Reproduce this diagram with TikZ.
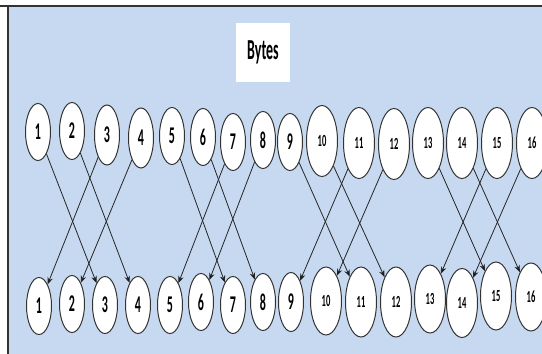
\documentclass[tikz,border=0pt]{standalone}
\usepackage{fontspec}
\setmainfont{Carlito}
\newfontfamily\bytefont[FakeStretch=0.5]{Carlito}
\usetikzlibrary{shapes.geometric,arrows.meta}
\definecolor{panelblue}{RGB}{198,217,240}
\begin{document}
\begin{tikzpicture}[x=1pt, y=-1pt, thick,
		byte node/.style={ellipse,draw=black!80,fill=white,line width=1pt,inner sep=0pt,
			minimum width=25pt,minimum height=57pt,font=\bytefont\bfseries\fontsize{24}{24}\selectfont},
		big byte node/.style={byte node,minimum width=31pt,minimum height=71pt,
			font=\bytefont\bfseries\fontsize{17}{17}\selectfont},
		link/.style={-{Stealth[length=7pt,width=5.5pt]},draw=black!85,line width=0.8pt}]
			
			\useasboundingbox (0,0) rectangle (542,354);
			\fill[panelblue] (8,7) rectangle (542,354);
			\draw[black!80,line width=1.6pt] (0,6) -- (542,6);
			\draw[black!80,line width=1.2pt] (8,6) -- (8,354);
			
			\node[fill=white,minimum width=54pt,minimum height=59pt,
			font=\bfseries\addfontfeatures{FakeStretch=0.48}\fontsize{29}{29}\selectfont] (title) at (263,52.5) {Bytes};
			
			% upper row
			\node[byte node] (t1) at (38,132) {1};
			\node[byte node] (t2) at (72,131) {2};
			\node[byte node,minimum height=60pt] (t3) at (107,135) {3};
			\node[byte node,minimum height=60pt] (t4) at (141,138) {4};
			\node[byte node] (t5) at (172,136) {5};
			\node[byte node] (t6) at (203,137) {6};
			\node[byte node] (t7) at (233,142) {7};
			\node[byte node] (t8) at (263,140) {8};
			\node[byte node] (t9) at (290,142) {9};
			\node[big byte node] (t10) at (322,141) {10};
			\node[big byte node] (t11) at (359,143) {11};
			\node[big byte node] (t12) at (394,144) {12};
			\node[big byte node] (t13) at (428,143) {13};
			\node[big byte node] (t14) at (462,143) {14};
			\node[big byte node] (t15) at (497,143) {15};
			\node[big byte node] (t16) at (532,143) {16};
			
			% lower row
			\node[byte node] (b1) at (39,306) {1};
			\node[byte node] (b2) at (72,304) {2};
			\node[byte node] (b3) at (105,305) {3};
			\node[byte node] (b4) at (138,305) {4};
			\node[byte node] (b5) at (170,305) {5};
			\node[byte node] (b6) at (201,302) {6};
			\node[byte node] (b7) at (233,305) {7};
			\node[byte node] (b8) at (263,302) {8};
			\node[byte node,minimum height=59pt] (b9) at (291,302) {9};
			\node[big byte node,minimum height=68pt] (b10) at (326,301) {10};
			\node[big byte node,minimum height=70pt] (b11) at (361,302) {11};
			\node[big byte node,minimum height=70pt] (b12) at (396,302) {12};
			\node[big byte node,minimum height=68pt] (b13) at (430,299) {13};
			\node[big byte node,minimum height=69pt] (b14) at (462,303) {14};
			\node[big byte node,minimum height=68pt] (b15) at (496,296) {15};
			\node[big byte node,minimum height=68pt] (b16) at (531,297) {16};
			
			\path[link]
			(t1) edge (b3)
			(t2) edge (b4)
			(t3) edge (b1)
			(t4) edge (b2)
			
			(t5) edge (b7)
			(t6) edge (b8)
			(t7) edge (b5)
			(t8) edge (b6)
			
			(t9) edge (b11)
			(t10) edge (b12)
			(t11) edge (b9)
			(t12) edge (b10)
			
			(t13) edge (b15)
			(t14) edge (b16)
			(t15) edge (b13)
			(t16) edge (b14)
			;
			\end{tikzpicture}
\end{document}
